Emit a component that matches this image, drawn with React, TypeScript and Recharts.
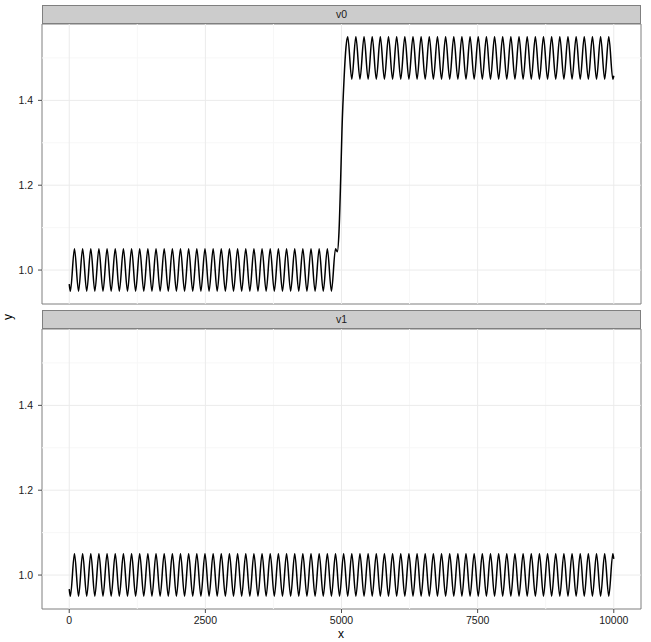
import React from "react"
import {
  LineChart,
  Line,
  XAxis,
  YAxis,
  ReferenceLine,
  ReferenceArea
} from "recharts"

// positions of the wave crests / valleys (x units)
const peakX = [
  96, 246, 396, 545, 695, 845, 995, 1145, 1294, 1444, 1594, 1744, 1894, 2043,
  2193, 2343, 2493, 2643, 2792, 2942, 3092, 3242, 3392, 3541, 3691, 3841, 3991,
  4141, 4290, 4440, 4590, 4740, 4890, 5039, 5189, 5339, 5489, 5639, 5788, 5938,
  6088, 6238, 6388, 6537, 6687, 6837, 6987, 7137, 7286, 7436, 7586, 7736, 7886,
  8035, 8185, 8335, 8485, 8635, 8784, 8934, 9084, 9234, 9384, 9533, 9683, 9833,
  9983
]
const troughX = [
  21, 171, 321, 470, 620, 770, 920, 1070, 1219, 1369, 1519, 1669, 1819, 1968,
  2118, 2268, 2418, 2568, 2717, 2867, 3017, 3167, 3317, 3466, 3616, 3766, 3916,
  4066, 4215, 4365, 4515, 4665, 4815, 4964, 5114, 5264, 5414, 5564, 5713, 5863,
  6013, 6163, 6313, 6462, 6612, 6762, 6912, 7062, 7211, 7361, 7511, 7661, 7811,
  7960, 8110, 8260, 8410, 8560, 8709, 8859, 9009, 9159, 9309, 9458, 9608, 9758,
  9908
]

// levels
const lowTop = 1.05
const lowBottom = 0.95
const highTop = 1.55
const highBottom = 1.45

// v0 step from the low band to the high band
const stepX = [4923, 4954, 4985, 5009, 5046, 5083]
const stepY = [1.043, 1.09, 1.215, 1.331, 1.448, 1.526]

const startY = 0.967
const v1EndY = 1.038
const v0EndY = 1.458

const xTicks = [0, 2500, 5000, 7500, 10000]
const xMinor = [1250, 3750, 6250, 8750]
const yTicks = [1.0, 1.2, 1.4]
const yMinor = [1.1, 1.3, 1.5]

type Pt = { x: number; y: number }
const byX = (a: Pt, b: Pt) => a.x - b.x

const v1Data: Pt[] = [
  { x: 0, y: startY },
  ...peakX.map(x => ({ x, y: lowTop })),
  ...troughX.map(x => ({ x, y: lowBottom })),
  { x: 10000, y: v1EndY }
].sort(byX)

const v0Data: Pt[] = [
  { x: 0, y: startY },
  ...peakX.filter(x => x < 4900).map(x => ({ x, y: lowTop })),
  ...troughX.filter(x => x < 4900).map(x => ({ x, y: lowBottom })),
  ...stepX.map((x, i) => ({ x, y: stepY[i] })),
  ...troughX.filter(x => x > 5100).map(x => ({ x, y: highTop })),
  ...peakX.filter(x => x > 5100).map(x => ({ x, y: highBottom })),
  { x: 10000, y: v0EndY }
].sort(byX)

const font = "'Liberation Sans', Arial, sans-serif"
const W = 651
const xDomain: [number, number] = [-500, 10500]
const yDomain: [number, number] = [0.92, 1.58]
const tickStyle = { fontSize: 10.5, fill: "#1a1a1a", fontFamily: font }

function Panel({
  data,
  top,
  height,
  showX
}: {
  data: Pt[]
  top: number
  height: number
  showX: boolean
}) {
  return (
    <LineChart
      width={W}
      height={height}
      data={data}
      margin={{ top, right: 10, bottom: showX ? 0 : 1, left: 0 }}
    >
      <XAxis
        dataKey="x"
        type="number"
        domain={xDomain}
        ticks={xTicks}
        hide={!showX}
        height={33}
        tickSize={4}
        tickMargin={4}
        axisLine={false}
        tickLine={{ stroke: "#4d4d4d" }}
        tick={tickStyle}
        allowDataOverflow
      />
      <YAxis
        type="number"
        domain={yDomain}
        ticks={yTicks}
        width={42}
        tickSize={4}
        tickMargin={5}
        axisLine={false}
        tickLine={{ stroke: "#4d4d4d" }}
        tick={tickStyle}
        tickFormatter={v => Number(v).toFixed(1)}
        allowDataOverflow
      />
      {yMinor.map(v => (
        <ReferenceLine key={"ym" + v} y={v} stroke="#f7f7f7" />
      ))}
      {xMinor.map(v => (
        <ReferenceLine key={"xm" + v} x={v} stroke="#f7f7f7" />
      ))}
      {yTicks.map(v => (
        <ReferenceLine key={"y" + v} y={v} stroke="#ebebeb" />
      ))}
      {xTicks.map(v => (
        <ReferenceLine key={"x" + v} x={v} stroke="#ebebeb" />
      ))}
      <Line
        type="monotone"
        dataKey="y"
        stroke="#000"
        strokeWidth={1.5}
        dot={false}
        isAnimationActive={false}
      />
      <ReferenceArea
        x1={xDomain[0]}
        x2={xDomain[1]}
        y1={yDomain[0]}
        y2={yDomain[1]}
        fill="none"
        stroke="#7f7f7f"
        strokeWidth={1}
      />
    </LineChart>
  )
}

function Strip({ label, top }: { label: string; top: number }) {
  return (
    <div
      style={{
        position: "absolute",
        left: 42,
        top,
        width: 599,
        height: 19,
        boxSizing: "border-box",
        background: "#cccccc",
        border: "1px solid #7f7f7f",
        fontFamily: font,
        fontSize: 10.5,
        lineHeight: "17px",
        textAlign: "center",
        color: "#1a1a1a"
      }}
    >
      {label}
    </div>
  )
}

export default function App() {
  return (
    <div
      style={{
        position: "absolute",
        left: 0,
        top: 0,
        width: W,
        height: 642,
        overflow: "hidden",
        background: "#fff"
      }}
    >
      <div style={{ position: "absolute", left: 0, top: 0 }}>
        <Panel data={v0Data} top={24} height={305} showX={false} />
      </div>
      <div style={{ position: "absolute", left: 0, top: 0 }}>
        <Panel data={v1Data} top={329} height={642} showX={true} />
      </div>
      <Strip label="v0" top={5} />
      <Strip label="v1" top={310} />
      <div
        style={{
          position: "absolute",
          left: 2,
          top: 310,
          width: 12,
          height: 14,
          transform: "rotate(-90deg)",
          fontFamily: font,
          fontSize: 12,
          lineHeight: "14px",
          textAlign: "center"
        }}
      >
        y
      </div>
      <div
        style={{
          position: "absolute",
          left: 335,
          top: 627,
          width: 12,
          fontFamily: font,
          fontSize: 12,
          lineHeight: "14px",
          textAlign: "center"
        }}
      >
        x
      </div>
    </div>
  )
}
